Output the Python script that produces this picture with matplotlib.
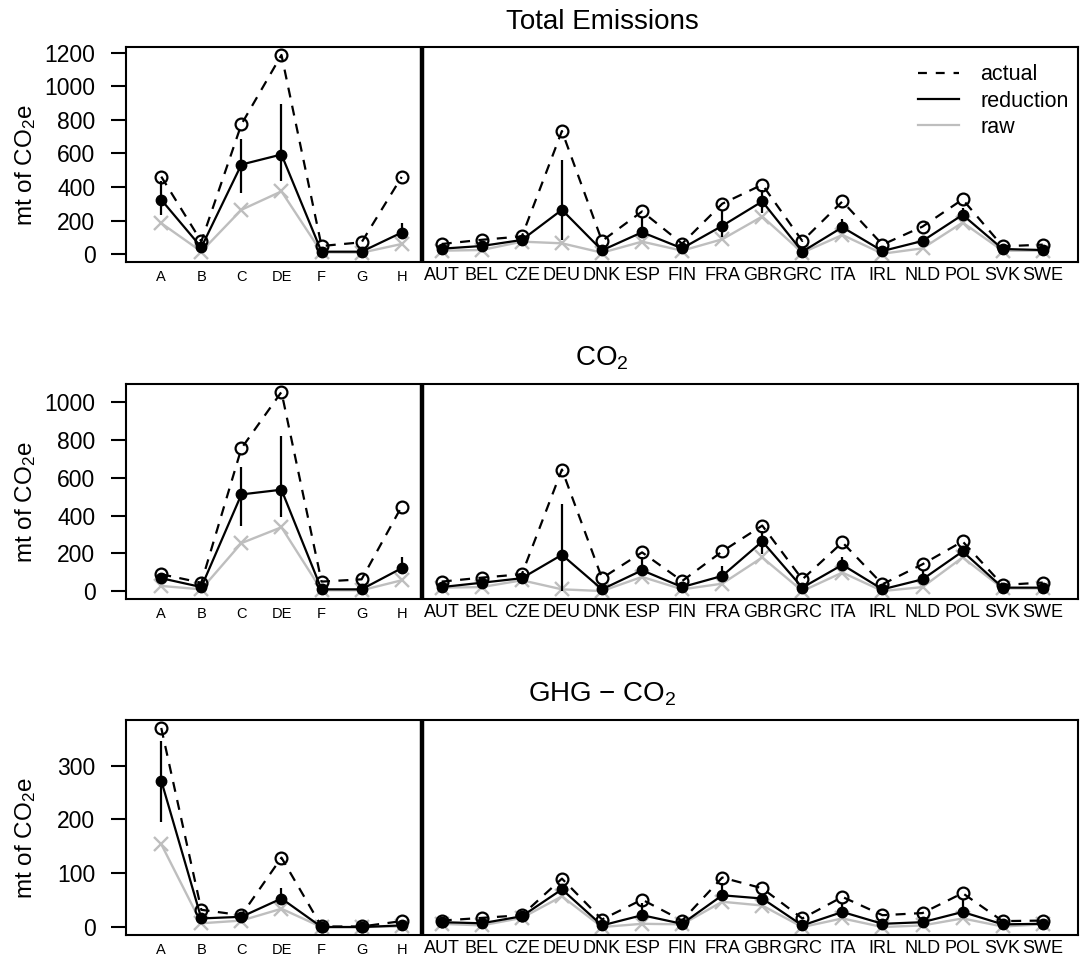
import numpy as np
import matplotlib
matplotlib.use('Agg')
import matplotlib.pyplot as plt
from matplotlib import font_manager
from matplotlib.lines import Line2D

plt.rcParams['font.family'] = ['Liberation Sans', 'DejaVu Sans']
plt.rcParams['mathtext.fontset'] = 'custom'
plt.rcParams['mathtext.rm'] = 'Liberation Sans'
plt.rcParams['mathtext.it'] = 'Liberation Sans:italic'

installed = {f.name for f in font_manager.fontManager.ttflist}
narrow = 'Liberation Sans Narrow' if 'Liberation Sans Narrow' in installed else 'Liberation Sans'

sectors = ['A', 'B', 'C', 'DE', 'F', 'G', 'H']
countries = ['AUT', 'BEL', 'CZE', 'DEU', 'DNK', 'ESP', 'FIN', 'FRA', 'GBR', 'GRC',
             'ITA', 'IRL', 'NLD', 'POL', 'SVK', 'SWE']

titles = ['Total Emissions', 'CO$_2$', 'GHG − CO$_2$']
yticks = [[0, 200, 400, 600, 800, 1000, 1200], [0, 200, 400, 600, 800, 1000], [0, 100, 200, 300]]

# values: 7 sectors followed by 16 countries
total_actual = [462, 75, 774, 1188, 48, 70, 460,
                60, 85, 105, 734, 78, 254, 62, 300, 414, 78, 314, 56, 164, 326, 46, 56]
total_red = [324, 40, 534, 594, 14, 14, 128,
             32, 48, 84, 264, 22, 130, 34, 168, 314, 14, 160, 18, 78, 234, 30, 24]
total_raw = [184, 15, 264, 374, 10, 8, 60,
             20, 24, 74, 64, 8, 74, 20, 88, 224, 8, 114, 2, 34, 188, 20, 20]
total_lo = [234, 30, 364, 434, 10, 10, 100,
            28, 44, 80, 84, 20, 100, 30, 104, 246, 12, 140, 16, 54, 222, 28, 22]
total_hi = [434, 50, 684, 894, 18, 18, 188,
            36, 52, 88, 564, 24, 222, 38, 264, 384, 16, 210, 20, 108, 276, 32, 26]

co2_actual = [89, 44, 756, 1055, 50, 62, 448,
              50, 71, 89, 644, 68, 205, 53, 210, 347, 62, 258, 36, 142, 263, 32, 45]
co2_red = [68, 21, 512, 537, 9, 9, 121,
           21, 44, 68, 192, 9, 110, 21, 80, 263, 18, 139, 9, 62, 210, 18, 18]
co2_raw = [27, 9, 254, 338, 4, 4, 57,
           18, 21, 57, 9, 0, 75, 9, 39, 178, 0, 98, 0, 21, 178, 14, 14]
co2_lo = [60, 18, 347, 391, 6, 6, 89,
          18, 40, 64, 0, 6, 89, 18, 53, 196, 14, 107, 6, 44, 187, 16, 16]
co2_hi = [76, 24, 658, 822, 12, 12, 181,
          24, 48, 72, 459, 12, 178, 24, 133, 320, 22, 178, 12, 107, 240, 20, 20]

ghg_actual = [370, 32, 22, 129, 1, 1, 11,
              12, 17, 22, 90, 14, 51, 12, 92, 72, 16, 56, 22, 26, 63, 11, 12]
ghg_red = [272, 16, 19, 53, 0, 0, 3,
           9, 7, 20, 70, 3, 22, 6, 59, 53, 3, 28, 6, 9, 28, 5, 6]
ghg_raw = [154, 7, 12, 34, 0, 0, 1,
           6, 3, 17, 57, 0, 6, 5, 47, 40, 0, 16, 0, 3, 16, 1, 5]
ghg_lo = [196, 12, 16, 44, 0, 0, 1,
          7, 5, 18, 62, 1, 16, 4, 53, 48, 1, 22, 4, 6, 24, 3, 4]
ghg_hi = [345, 20, 22, 72, 1, 1, 5,
          11, 9, 22, 78, 5, 44, 8, 81, 60, 5, 42, 8, 18, 50, 7, 8]

panels = [
    (total_actual, total_red, total_raw, total_lo, total_hi),
    (co2_actual, co2_red, co2_raw, co2_lo, co2_hi),
    (ghg_actual, ghg_red, ghg_raw, ghg_lo, ghg_hi),
]

W, H = 1081, 959
tops = [47, 384, 720]
ax_h = 215
left, right = 126, 1078

GREY = '#BEBEBE'
DASH = (4.5, 3.8)

fig = plt.figure(figsize=(W / 100, H / 100), dpi=100)

x = np.arange(1, len(sectors) + len(countries) + 1)
ns = len(sectors)
groups = [slice(0, ns), slice(ns, len(x))]

for i, (actual, red, raw, lo, hi) in enumerate(panels):
    ax = fig.add_axes([left / W, 1 - (tops[i] + ax_h) / H, (right - left) / W, ax_h / H])
    actual, red, raw = np.array(actual), np.array(red), np.array(raw)

    # sectors and countries are drawn as separate lines
    for g in groups:
        ax.plot(x[g], raw[g], color=GREY, lw=1.7, marker='x', ms=9.5, mew=1.7)
        ax.plot(x[g], actual[g], color='black', lw=1.6, dashes=DASH, marker='o',
                ms=8.5, mfc='none', mew=1.6)
        ax.plot(x[g], red[g], color='black', lw=1.6, marker='o', ms=7.5)
    ax.vlines(x, lo, hi, color='black', lw=1.6)

    ax.axvline(ns + 0.5, color='black', lw=3.2)

    rng = max(hi + list(actual))
    ax.set_ylim(-0.04 * rng, rng * 1.04)
    ax.set_xlim(1 - 0.04 * (len(x) - 1), len(x) + 0.04 * (len(x) - 1))

    ax.set_yticks(yticks[i])
    ax.tick_params(axis='y', direction='out', length=11, width=1.5, pad=11, labelsize=16.5)
    ax.set_xticks(x)
    ax.set_xticklabels(sectors + countries)
    ax.tick_params(axis='x', length=0)
    for j, (tick, lab) in enumerate(zip(ax.xaxis.get_major_ticks(), ax.get_xticklabels())):
        lab.set_family(narrow)
        if j < ns:
            lab.set_fontsize(10.5)
            tick.set_pad(5.5)
        else:
            lab.set_fontsize(13)
            tick.set_pad(3.5)

    for s in ax.spines.values():
        s.set_linewidth(1.5)

    ax.set_ylabel('mt of CO$_2$e', fontsize=17.5)
    ax.yaxis.set_label_coords(-0.092, 0.45)
    ax.set_title(titles[i], fontsize=20, pad=13)

    if i == 0:
        leg_handles = [Line2D([], [], color='black', lw=1.6, dashes=(4, 4)),
                       Line2D([], [], color='black', lw=1.6),
                       Line2D([], [], color=GREY, lw=1.6)]
        ax.legend(leg_handles, ['actual', 'reduction', 'raw'], loc='upper right',
                  bbox_to_anchor=(0.99, 0.92), frameon=False, fontsize=15.5,
                  handlelength=1.9, handletextpad=1.0, labelspacing=0.25,
                  borderpad=0, borderaxespad=0)

fig.savefig('out.png', dpi=100)
